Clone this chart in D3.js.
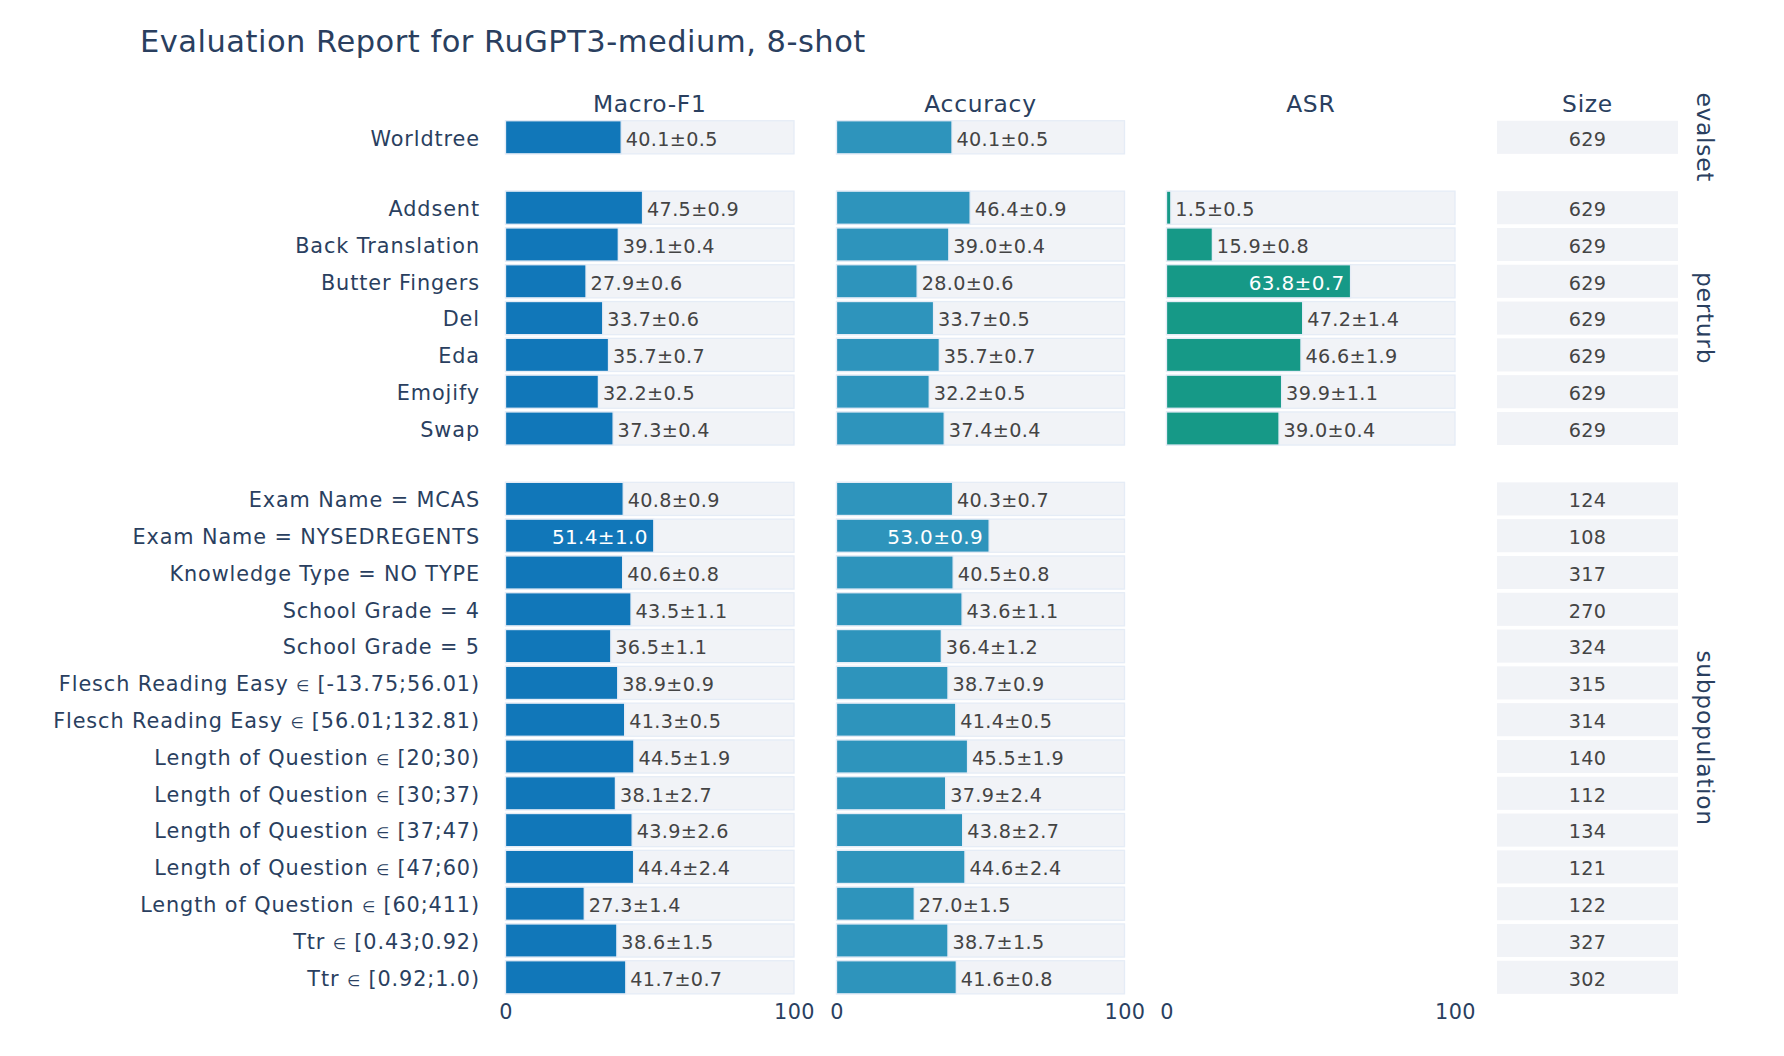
<!DOCTYPE html>
<html>
<head>
<meta charset="utf-8">
<script src="https://cdn.jsdelivr.net/npm/d3@7"></script>
<style>
  html, body { margin: 0; padding: 0; background: #fff; }
  svg { display: block; }
  text { font-family: "DejaVu Sans", Verdana, sans-serif; }
</style>
</head>
<body>
<svg id="chart" width="1784" height="1056"></svg>
<script>
// ---------------- DATA ----------------
const chartTitle = "Evaluation Report for RuGPT3-medium, 8-shot";
const groupNames = ["evalset", "perturb", "subpopulation"];
const columnTitles = ["Macro-F1", "Accuracy", "ASR", "Size"];
const xTickValues = [0, 100];

const categories = [
  "Worldtree",
  "Addsent", "Back Translation", "Butter Fingers", "Del", "Eda", "Emojify", "Swap",
  "Exam Name = MCAS", "Exam Name = NYSEDREGENTS", "Knowledge Type = NO TYPE",
  "School Grade = 4", "School Grade = 5",
  "Flesch Reading Easy \u2208 [-13.75;56.01)", "Flesch Reading Easy \u2208 [56.01;132.81)",
  "Length of Question \u2208 [20;30)", "Length of Question \u2208 [30;37)",
  "Length of Question \u2208 [37;47)", "Length of Question \u2208 [47;60)",
  "Length of Question \u2208 [60;411)",
  "Ttr \u2208 [0.43;0.92)", "Ttr \u2208 [0.92;1.0)"
];
const categoryGroup = [
  "evalset",
  "perturb", "perturb", "perturb", "perturb", "perturb", "perturb", "perturb",
  "subpopulation", "subpopulation", "subpopulation", "subpopulation", "subpopulation",
  "subpopulation", "subpopulation", "subpopulation", "subpopulation", "subpopulation",
  "subpopulation", "subpopulation", "subpopulation", "subpopulation"
];
const macroF1 =    [40.1, 47.5, 39.1, 27.9, 33.7, 35.7, 32.2, 37.3, 40.8, 51.4, 40.6, 43.5, 36.5, 38.9, 41.3, 44.5, 38.1, 43.9, 44.4, 27.3, 38.6, 41.7];
const macroF1Err = [0.5, 0.9, 0.4, 0.6, 0.6, 0.7, 0.5, 0.4, 0.9, 1.0, 0.8, 1.1, 1.1, 0.9, 0.5, 1.9, 2.7, 2.6, 2.4, 1.4, 1.5, 0.7];
const accuracy =    [40.1, 46.4, 39.0, 28.0, 33.7, 35.7, 32.2, 37.4, 40.3, 53.0, 40.5, 43.6, 36.4, 38.7, 41.4, 45.5, 37.9, 43.8, 44.6, 27.0, 38.7, 41.6];
const accuracyErr = [0.5, 0.9, 0.4, 0.6, 0.5, 0.7, 0.5, 0.4, 0.7, 0.9, 0.8, 1.1, 1.2, 0.9, 0.5, 1.9, 2.4, 2.7, 2.4, 1.5, 1.5, 0.8];
const asr =    [null, 1.5, 15.9, 63.8, 47.2, 46.6, 39.9, 39.0, null, null, null, null, null, null, null, null, null, null, null, null, null, null];
const asrErr = [null, 0.5, 0.8, 0.7, 1.4, 1.9, 1.1, 0.4, null, null, null, null, null, null, null, null, null, null, null, null, null, null];
const sizes = [629, 629, 629, 629, 629, 629, 629, 629, 124, 108, 317, 270, 324, 315, 314, 140, 112, 134, 121, 122, 327, 302];

// ---------------- LAYOUT ----------------
const svg = d3.select("#chart");
const FONT_TICK = 20.8, FONT_TITLE = 23.4, FONT_BAR = 19.2;
const NAVY = "#2a3f5f", TEXTGRAY = "#444";
const BG = "#f1f3f7", OUTLINE = "#e5ecf6";
const colColors = ["#1177b9", "#2e94bc", "#169987"];
const FAMILY = '"DejaVu Sans", Verdana, sans-serif';

const colRanges = [[505.5, 794], [836.5, 1124.5], [1166.5, 1455], [1497, 1678]];
const plotTop = 118.9, rowGap = 33.6, step = 36.8;

const groupCats = groupNames.map(g => categories.filter((c, i) => categoryGroup[i] === g));
let cursor = plotTop;
const yScales = {};
groupNames.forEach((g, gi) => {
  const h = groupCats[gi].length * step;
  yScales[g] = d3.scaleBand().domain(groupCats[gi]).range([cursor, cursor + h])
    .paddingInner(0.1).paddingOuter(0.05);
  cursor += h + rowGap;
});
const plotBottom = cursor - rowGap;

const xScales = colRanges.slice(0, 3).map(r => d3.scaleLinear().domain([0, 100]).range(r));
const xSize = d3.scaleLinear().domain([0, 1]).range(colRanges[3]);

// Title
svg.append("text").attr("x", 140).attr("y", 52)
  .attr("font-size", 30.5).attr("letter-spacing", "0.5px").attr("fill", NAVY).text(chartTitle);

// Column titles
columnTitles.forEach((t, i) => {
  svg.append("text").attr("x", (colRanges[i][0] + colRanges[i][1]) / 2).attr("y", 112.3)
    .attr("text-anchor", "middle").attr("font-size", FONT_TITLE).attr("letter-spacing", "0.7px")
    .attr("fill", NAVY).text(t);
});

// Group labels on the right
groupNames.forEach(g => {
  const r = yScales[g].range();
  svg.append("text")
    .attr("transform", `translate(1705,${(r[0] + r[1]) / 2}) rotate(90)`)
    .attr("text-anchor", "middle").attr("dy", "0.36em").attr("letter-spacing", "0.7px")
    .attr("font-size", FONT_TITLE).attr("fill", NAVY).text(g);
});

// Y axis labels
groupNames.forEach(g => {
  const ax = svg.append("g").attr("transform", `translate(${colRanges[0][0]},0)`)
    .call(d3.axisLeft(yScales[g]).tickSize(0).tickPadding(25.5));
  ax.select(".domain").remove();
  ax.selectAll("text").attr("font-size", FONT_TICK).attr("fill", NAVY)
    .attr("font-family", FAMILY).attr("dy", "0.4em").attr("letter-spacing", "0.9px")
    .each(function (d) {
      if (d.includes("\u2208")) {
        const parts = d.split("\u2208");
        const t = d3.select(this).text(null);
        t.append("tspan").text(parts[0]);
        t.append("tspan").attr("font-size", "0.72em").text("\u2208");
        t.append("tspan").text(parts[1]);
      }
    });
});

// Metric columns
const metricVals = [macroF1, accuracy, asr];
const metricErrs = [macroF1Err, accuracyErr, asrErr];
metricVals.forEach((vals, ci) => {
  const x = xScales[ci];
  const errs = metricErrs[ci];
  const maxV = d3.max(vals);
  const rows = categories.map((c, i) => ({ c, g: categoryGroup[i], v: vals[i], e: errs[i] }))
    .filter(d => d.v !== null);
  const gCol = svg.append("g");
  gCol.selectAll("rect.bg").data(rows).join("rect").attr("class", "bg")
    .attr("x", x(0)).attr("width", x(100) - x(0))
    .attr("y", d => yScales[d.g](d.c)).attr("height", d => yScales[d.g].bandwidth())
    .attr("fill", BG).attr("stroke", OUTLINE).attr("stroke-width", 1.3);
  gCol.selectAll("rect.val").data(rows).join("rect").attr("class", "val")
    .attr("x", x(0)).attr("width", d => x(d.v) - x(0))
    .attr("y", d => yScales[d.g](d.c)).attr("height", d => yScales[d.g].bandwidth())
    .attr("fill", colColors[ci]).attr("stroke", OUTLINE).attr("stroke-width", 1.3);
  gCol.selectAll("text.lbl").data(rows).join("text").attr("class", "lbl")
    .attr("x", d => d.v === maxV ? x(d.v) - 6 : x(d.v) + 4.5)
    .attr("y", d => yScales[d.g](d.c) + yScales[d.g].bandwidth() / 2)
    .attr("dy", "0.43em")
    .attr("text-anchor", d => d.v === maxV ? "end" : "start")
    .attr("font-size", d => d.v === maxV ? 20 : FONT_BAR)
    .attr("letter-spacing", "0.35px")
    .attr("fill", d => d.v === maxV ? "#fff" : TEXTGRAY)
    .text(d => `${d.v.toFixed(1)}\u00b1${d.e.toFixed(1)}`);
  const ax = svg.append("g").attr("transform", `translate(0,${plotBottom})`)
    .call(d3.axisBottom(x).tickValues(xTickValues).tickSize(0));
  ax.select(".domain").remove();
  ax.selectAll("text").attr("font-size", FONT_TICK).attr("fill", NAVY)
    .attr("font-family", FAMILY).attr("letter-spacing", "0.5px")
    .attr("dy", null).attr("y", 23.3);
});

// Size column
const sizeRows = categories.map((c, i) => ({ c, g: categoryGroup[i], s: sizes[i] }));
const gSize = svg.append("g");
gSize.selectAll("rect").data(sizeRows).join("rect")
  .attr("x", xSize(0)).attr("width", xSize(1) - xSize(0))
  .attr("y", d => yScales[d.g](d.c)).attr("height", d => yScales[d.g].bandwidth())
  .attr("fill", BG);
gSize.selectAll("text").data(sizeRows).join("text")
  .attr("x", xSize(0.5)).attr("y", d => yScales[d.g](d.c) + yScales[d.g].bandwidth() / 2)
  .attr("dy", "0.43em").attr("text-anchor", "middle").attr("letter-spacing", "0.3px")
  .attr("font-size", FONT_BAR).attr("fill", TEXTGRAY).text(d => d.s);
</script>
</body>
</html>
